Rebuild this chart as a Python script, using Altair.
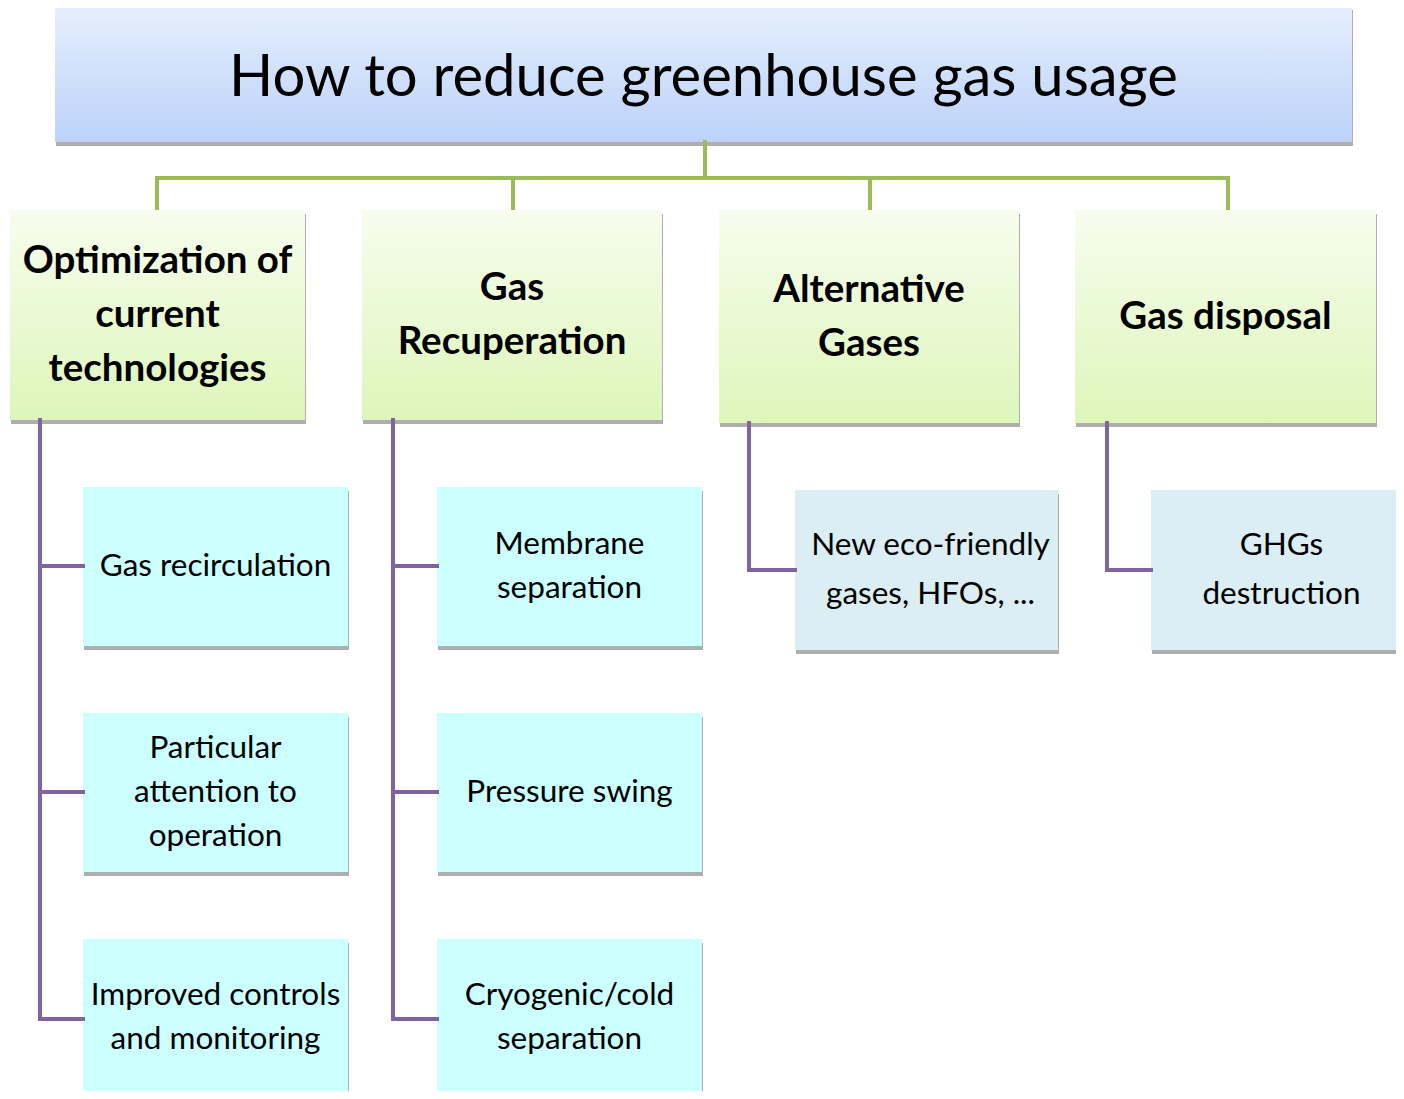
import altair as alt
import pandas as pd

# ---- content ----
title_text = "How to reduce greenhouse gas usage"
title_box = [55, 6, 1352, 142]  # x0, y0, x1, y1

l1_labels = ["Optimization of\ncurrent\ntechnologies", "Gas\nRecuperation",
             "Alternative\nGases", "Gas disposal"]
l1_x0 = [10, 362, 719, 1075]
l1_x1 = [305, 662, 1019, 1376]
l1_y0 = [210, 210, 210, 210]
l1_y1 = [420, 420, 423, 423]

l2_labels = ["Gas recirculation", "Particular\nattention to\noperation",
             "Improved controls\nand monitoring",
             "Membrane\nseparation", "Pressure swing", "Cryogenic/cold\nseparation",
             "New eco-friendly\ngases, HFOs, ...", "GHGs\ndestruction"]
l2_x0 = [83, 83, 83, 437, 437, 437, 795, 1151]
l2_x1 = [348, 348, 348, 702, 702, 702, 1058, 1404]
l2_y0 = [487, 713, 939, 487, 713, 939, 490, 490]
l2_y1 = [646, 872, 1097, 646, 872, 1097, 650, 650]
l2_fill = ["#CCFFFF"] * 6 + ["#DAEEF3"] * 2

# connector segments (x, y, x2, y2)
green_x = [705, 157, 157, 513, 870, 1228]
green_y = [142, 178, 178, 178, 178, 178]
green_x2 = [705, 1228, 157, 513, 870, 1228]
green_y2 = [178, 178, 208, 208, 208, 208]

purple_x = [40, 40, 40, 40, 393, 393, 393, 393, 749, 749, 1107, 1107]
purple_y = [420, 566, 792, 1019, 420, 566, 792, 1019, 423, 570, 423, 570]
purple_x2 = [40, 83, 83, 83, 393, 437, 437, 437, 749, 795, 1107, 1151]
purple_y2 = [1019, 566, 792, 1019, 1019, 566, 792, 1019, 570, 570, 570, 570]

FONT = "Lato"

# ---- tables ----
title_df = pd.DataFrame({"x0": [title_box[0]], "y0": [title_box[1]],
                         "x1": [title_box[2]], "y1": [title_box[3]],
                         "label": [title_text]})
l1_df = pd.DataFrame({"x0": l1_x0, "x1": l1_x1, "y0": l1_y0, "y1": l1_y1, "label": l1_labels})
l2_df = pd.DataFrame({"x0": l2_x0, "x1": l2_x1, "y0": l2_y0, "y1": l2_y1,
                      "label": l2_labels, "fill": l2_fill})
all_boxes = pd.concat([title_df, l1_df, l2_df[["x0", "x1", "y0", "y1", "label"]]], ignore_index=True)
green_df = pd.DataFrame({"x": green_x, "y": green_y, "x2": green_x2, "y2": green_y2})
purple_df = pd.DataFrame({"x": purple_x, "y": purple_y, "x2": purple_x2, "y2": purple_y2})

W, H = 1388, 1083
xs = alt.Scale(domain=[8, 8 + W], nice=False, zero=False)
ys = alt.Scale(domain=[8, 8 + H], nice=False, zero=False, reverse=True)
X = lambda f: alt.X(f, type="quantitative", scale=xs, axis=None)
Y = lambda f: alt.Y(f, type="quantitative", scale=ys, axis=None)

def grad(top, bottom):
    return alt.Gradient(gradient="linear", x1=0, y1=0, x2=0, y2=1,
                        stops=[alt.GradientStop(offset=0, color=top),
                               alt.GradientStop(offset=1, color=bottom)])

shadow = alt.Chart(all_boxes).transform_calculate(
    sx0="datum.x0 + 1", sx1="datum.x1 + 1", sy0="datum.y0 + 4", sy1="datum.y1 + 4"
).mark_rect(color="#A5A5A5", opacity=0.9).encode(
    x=X("sx0"), x2="sx1", y=Y("sy0"), y2="sy1")

title_rect = alt.Chart(title_df).mark_rect(fill=grad("#E5EFFD", "#BCD2F9")).encode(
    x=X("x0"), x2="x1", y=Y("y0"), y2="y1")
l1_rect = alt.Chart(l1_df).mark_rect(fill=grad("#F7FDEE", "#DDF6BA")).encode(
    x=X("x0"), x2="x1", y=Y("y0"), y2="y1")
l2_rect = alt.Chart(l2_df).mark_rect().encode(
    x=X("x0"), x2="x1", y=Y("y0"), y2="y1",
    fill=alt.Fill("fill:N", scale=None))

green = alt.Chart(green_df).mark_rule(color="#9BBB59", strokeWidth=4, strokeCap="square").encode(
    x=X("x"), y=Y("y"), x2="x2", y2="y2")
purple = alt.Chart(purple_df).mark_rule(color="#8064A2", strokeWidth=4, strokeCap="square").encode(
    x=X("x"), y=Y("y"), x2="x2", y2="y2")


def centered(lh):
    return dict(
        cx="(datum.x0 + datum.x1) / 2",
        cy=f"(datum.y0 + datum.y1) / 2 - (length(split(datum.label, '\\n')) - 1) * {lh} / 2",
    )

title_txt = alt.Chart(title_df).transform_calculate(**centered(0)).mark_text(
    font=FONT, fontSize=58, color="#000000", align="center", baseline="middle", dy=5
).encode(x=X("cx"), y=Y("cy"), text="label:N")

LH1 = 54
l1_txt = alt.Chart(l1_df).transform_calculate(**centered(LH1)).mark_text(
    font=FONT, fontSize=38.5, fontWeight="bold", color="#000000", align="center",
    baseline="middle", lineBreak="\n", lineHeight=LH1
).encode(x=X("cx"), y=Y("cy"), text="label:N")

LH2a, LH2b = 44, 49
l2_txt_a = alt.Chart(l2_df).transform_filter(alt.datum.fill == "#CCFFFF").transform_calculate(
    **centered(LH2a)
).mark_text(
    font=FONT, fontSize=31.5, color="#000000", align="center",
    baseline="middle", lineBreak="\n", lineHeight=LH2a
).encode(x=X("cx"), y=Y("cy"), text="label:N")
l2_txt_b = alt.Chart(l2_df).transform_filter(alt.datum.fill != "#CCFFFF").transform_calculate(
    **centered(LH2b)
).mark_text(
    font=FONT, fontSize=31.5, color="#000000", align="center",
    baseline="middle", lineBreak="\n", lineHeight=LH2b, dx=4
).encode(x=X("cx"), y=Y("cy"), text="label:N")

chart = alt.layer(shadow, title_rect, l1_rect, l2_rect, green, purple,
                  title_txt, l1_txt, l2_txt_a, l2_txt_b).properties(
    width=W, height=H, padding=0, autosize=alt.AutoSizeParams(type="none"),
    background="#FFFFFF"
).configure_view(stroke=None)

chart.save("out.html", embed_options={"renderer": "svg", "actions": False})
